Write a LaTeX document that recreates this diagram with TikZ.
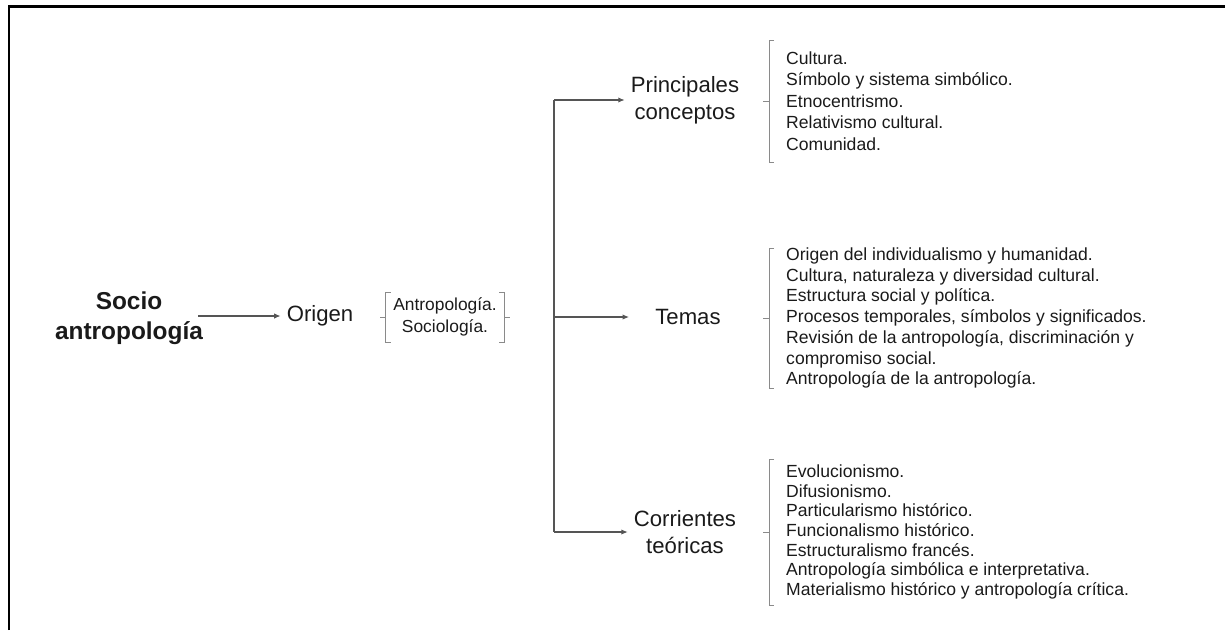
\documentclass[tikz,border=0pt]{standalone}
\usepackage{fontspec}
\setmainfont{Liberation Sans}
\usetikzlibrary{arrows.meta,calc}

\definecolor{ink}{HTML}{1A1A1A}
\definecolor{brkgray}{HTML}{8A8A8A}
\definecolor{trunkgray}{HTML}{555555}

% bracket on the left / right side of a node, #2 = half height
\newcommand{\leftbrk}[2]{%
  \draw[brk] ($(#1.west)+(5,-#2)$) -- ($(#1.west)+(0,-#2)$) -- ($(#1.west)+(0,#2)$) -- ($(#1.west)+(5,#2)$);
  \draw[brk] (#1.west) -- ($(#1.west)+(-6,0)$);}
\newcommand{\rightbrk}[2]{%
  \draw[brk] ($(#1.east)+(-5,-#2)$) -- ($(#1.east)+(0,-#2)$) -- ($(#1.east)+(0,#2)$) -- ($(#1.east)+(-5,#2)$);
  \draw[brk] (#1.east) -- ($(#1.east)+(6,0)$);}

\begin{document}
\begin{tikzpicture}[x=0.02cm, y=-0.02cm,
  title/.style={font=\fontsize{13.9}{17}\selectfont\bfseries, align=center, text=ink, inner sep=0pt},
  head/.style={font=\fontsize{12.6}{15.3}\selectfont, align=center, text=ink},
  lst/.style={font=\fontsize{10}{11.8}\selectfont, align=left, anchor=west, inner xsep=9.6pt, inner ysep=0pt, text=ink},
  small/.style={font=\fontsize{9.9}{12.4}\selectfont, align=center, inner xsep=4pt, inner ysep=0pt, text=ink},
  link/.style={draw=trunkgray, line width=0.6pt, -{Latex[length=3.6pt,width=3pt]}},
  trunk/.style={draw=trunkgray, line width=0.6pt},
  brk/.style={draw=brkgray, line width=0.5pt},
  frame/.style={draw=black, line width=1.7pt}]

\useasboundingbox (0,0) rectangle (1225,630);
\draw[frame] (9,630) -- (9,6.5) -- (1225,6.5);

\node[title] (socio) at (129,318) {Socio\\antropología};
\node[head] (origen) at (320,316) {Origen};
\node[small] (fuentes) at (445,317) {Antropología.\\Sociología.};
\leftbrk{fuentes}{25}
\rightbrk{fuentes}{25}

\coordinate (top) at (554,100);
\coordinate (mid) at (554,317);
\coordinate (bot) at (554,532);

\node[head] (conceptos) at (685,100) {Principales\\conceptos};
\node[head] (temas) at (688,317) {Temas};
\node[head] (corrientes) at (685,532) {Corrientes\\teóricas};

\node[lst, font=\fontsize{10}{12.2}\selectfont] (lstconc) at (769,101) {Cultura.\\Símbolo y sistema simbólico.\\Etnocentrismo.\\Relativismo cultural.\\Comunidad.};
\node[lst] (lsttemas) at (769,318) {Origen del individualismo y humanidad.\\Cultura, naturaleza y diversidad cultural.\\Estructura social y política.\\Procesos temporales, símbolos y significados.\\Revisión de la antropología, discriminación y\\compromiso social.\\Antropología de la antropología.};
\node[lst, font=\fontsize{10}{11.2}\selectfont] (lstcorr) at (769,532) {Evolucionismo.\\Difusionismo.\\Particularismo histórico.\\Funcionalismo histórico.\\Estructuralismo francés.\\Antropología simbólica e interpretativa.\\Materialismo histórico y antropología crítica.};
\leftbrk{lstconc}{61}
\leftbrk{lsttemas}{70}
\leftbrk{lstcorr}{73}

\draw[link] ($(socio.east |- origen.west)+(-5,0)$) -- (origen.west);
\draw[trunk] (top) -- (bot);
\draw[link] (top) -- (conceptos.west);
\draw[link, shorten >=11.5pt] (mid) -- (temas.west);
\draw[link] (bot) -- (corrientes.west);
\end{tikzpicture}
\end{document}
